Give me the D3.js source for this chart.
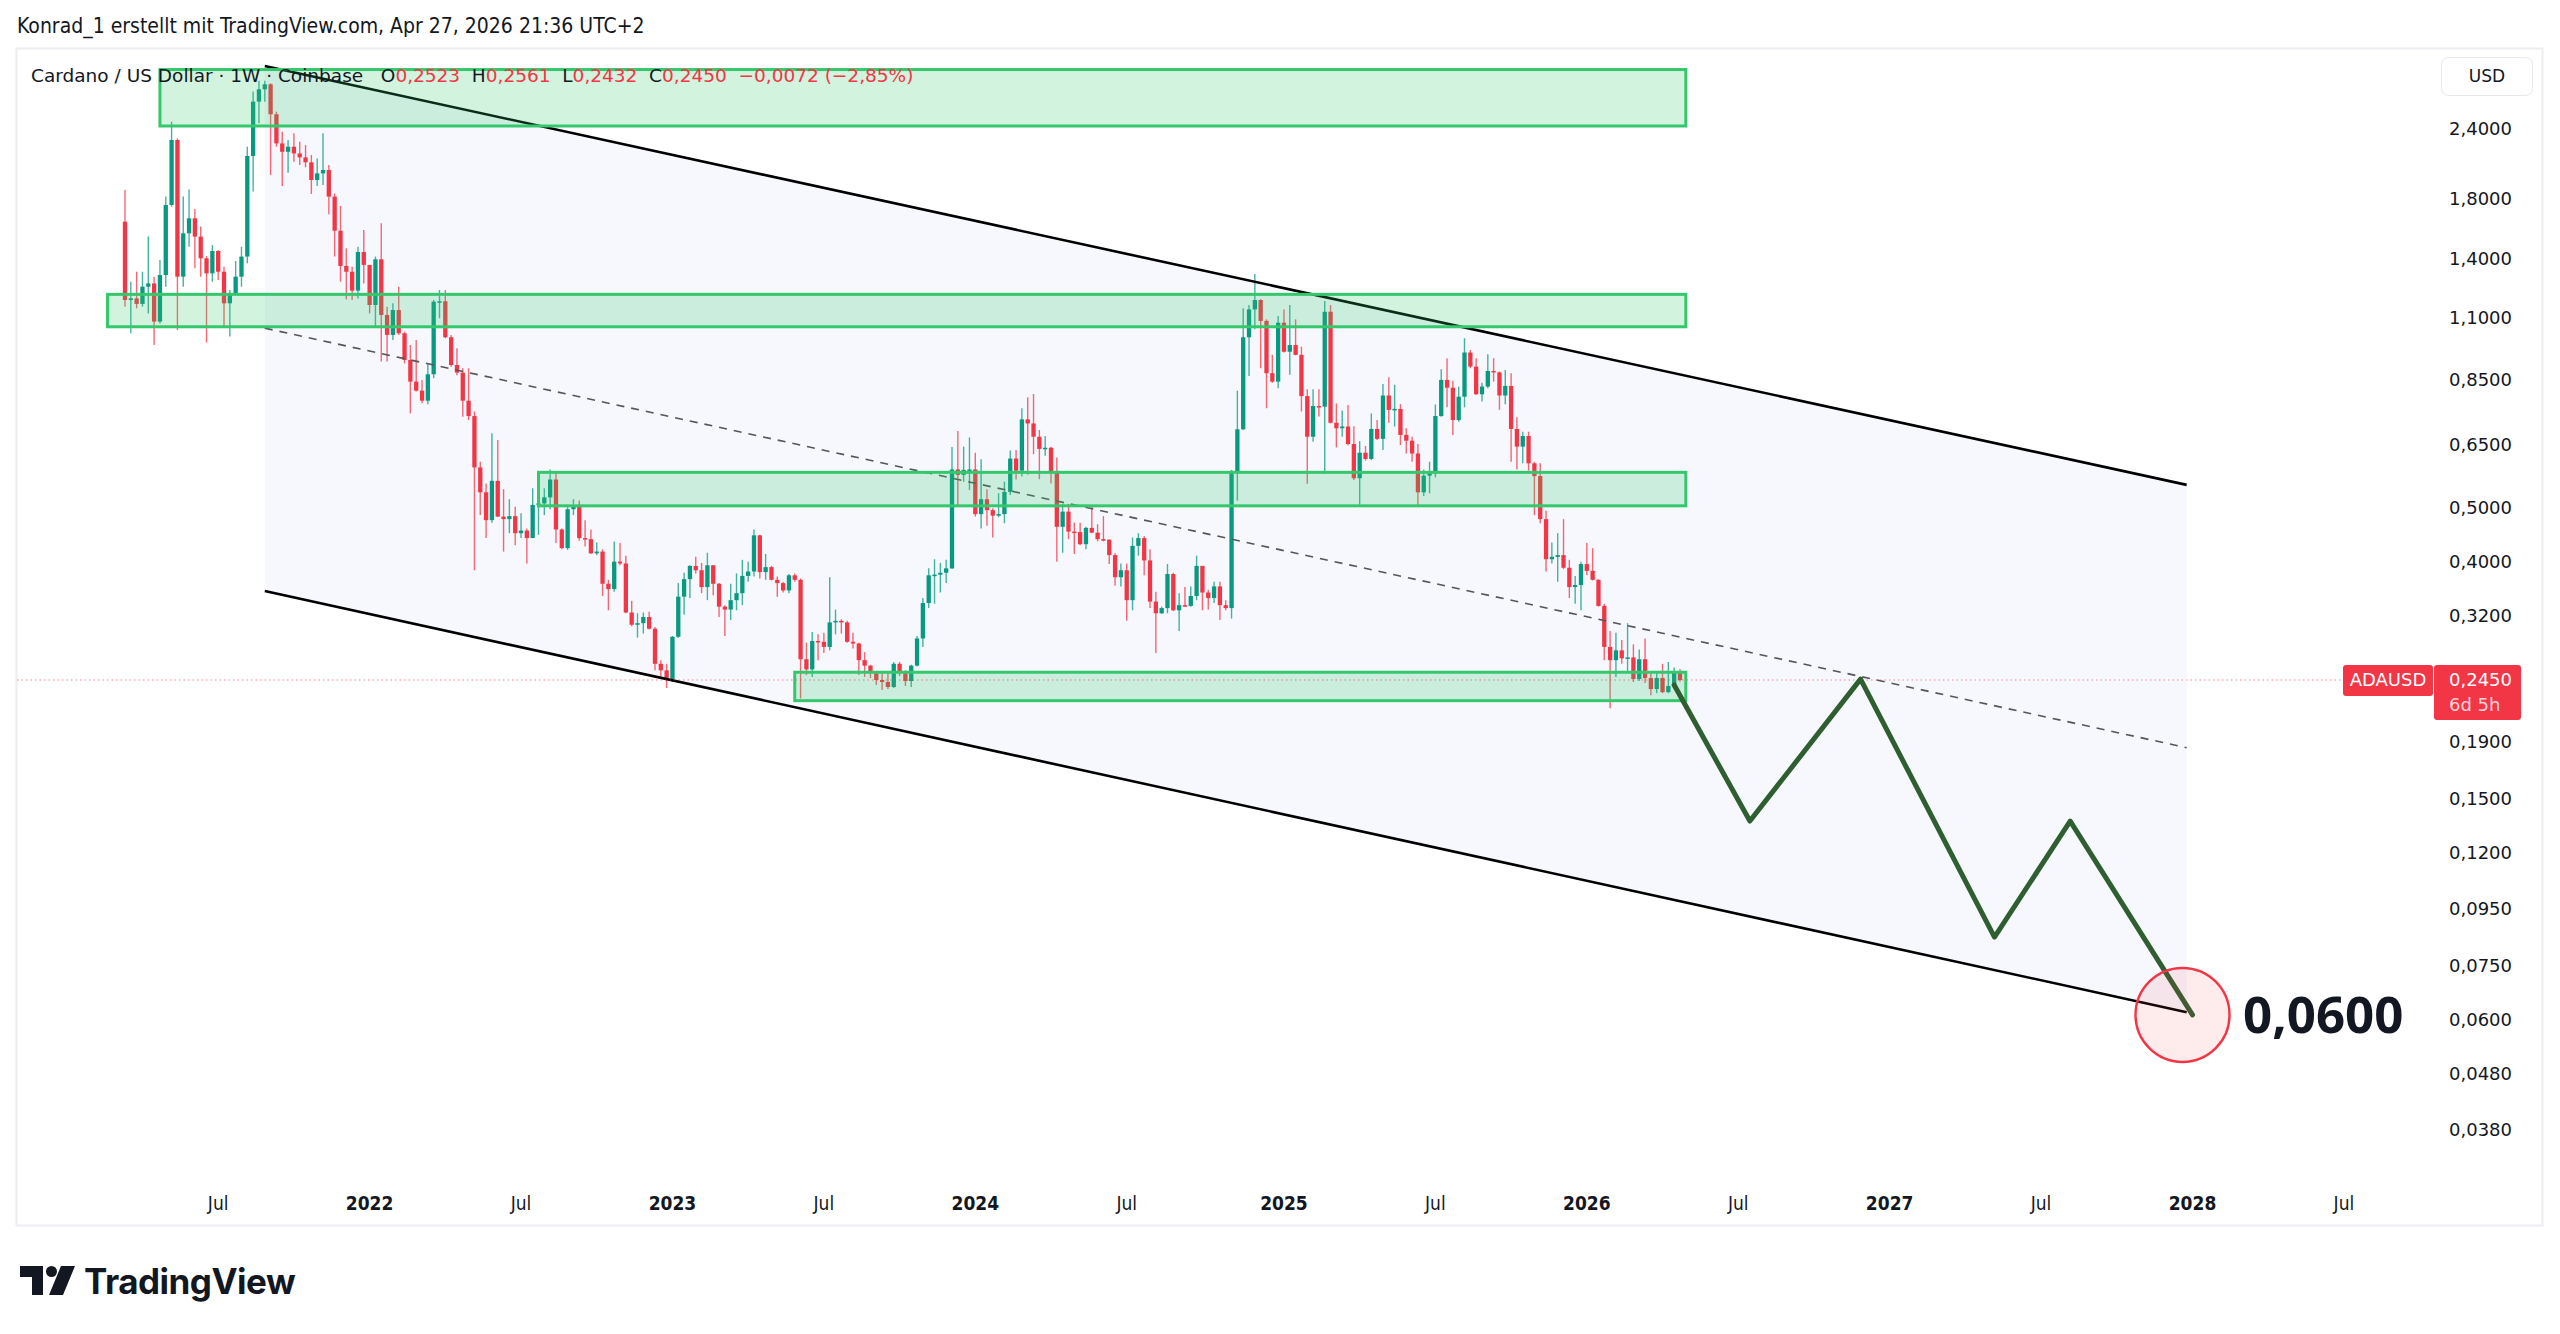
<!DOCTYPE html>
<html>
<head>
<meta charset="utf-8">
<script src="https://cdn.jsdelivr.net/npm/d3@7"></script>
<style>
  html, body { margin: 0; padding: 0; background: #fff; }
  svg { display: block; }
</style>
</head>
<body>
<script>
// weekly ADA/USD bars (Coinbase), first bar = week of 15 Mar 2021
const firstWeek = "2021-03-15";
const firstOpen = 1.635;
const closes = [
  1.182, 1.190, 1.163, 1.249, 1.266, 1.081, 1.311, 1.752, 2.293, 1.302,
  1.558, 1.658, 1.537, 1.405, 1.320, 1.448, 1.329, 1.166, 1.215, 1.302,
  1.415, 2.146, 2.688, 2.829, 2.888, 2.551, 2.261, 2.184, 2.230, 2.169,
  2.134, 2.091, 1.943, 1.997, 2.025, 1.814, 1.575, 1.361, 1.329, 1.229,
  1.442, 1.367, 1.158, 1.399, 1.111, 1.023, 1.134, 1.030, 0.922, 0.843,
  0.812, 0.779, 0.869, 1.174, 1.176, 1.013, 0.903, 0.875, 0.779, 0.731,
  0.591, 0.533, 0.475, 0.559, 0.482, 0.477, 0.483, 0.450, 0.455, 0.441,
  0.506, 0.509, 0.522, 0.562, 0.457, 0.423, 0.497, 0.504, 0.441, 0.439,
  0.414, 0.417, 0.365, 0.357, 0.400, 0.397, 0.324, 0.308, 0.310, 0.318,
  0.303, 0.262, 0.255, 0.246, 0.293, 0.346, 0.372, 0.393, 0.386, 0.360,
  0.394, 0.365, 0.332, 0.328, 0.341, 0.351, 0.377, 0.384, 0.446, 0.383,
  0.391, 0.371, 0.366, 0.355, 0.378, 0.371, 0.267, 0.256, 0.288, 0.287,
  0.281, 0.311, 0.313, 0.311, 0.287, 0.285, 0.266, 0.260, 0.252, 0.245,
  0.243, 0.238, 0.262, 0.252, 0.244, 0.260, 0.291, 0.337, 0.378, 0.379,
  0.382, 0.389, 0.586, 0.573, 0.585, 0.586, 0.487, 0.518, 0.495, 0.484,
  0.487, 0.534, 0.613, 0.583, 0.721, 0.709, 0.671, 0.638, 0.641, 0.581,
  0.462, 0.492, 0.453, 0.452, 0.430, 0.460, 0.451, 0.439, 0.438, 0.411,
  0.375, 0.386, 0.341, 0.427, 0.441, 0.402, 0.339, 0.323, 0.330, 0.380,
  0.327, 0.334, 0.333, 0.347, 0.393, 0.352, 0.344, 0.361, 0.334, 0.330,
  0.581, 0.692, 1.013, 1.137, 1.182, 1.084, 0.873, 0.843, 1.076, 0.954,
  0.981, 0.942, 0.794, 0.671, 0.762, 0.760, 1.126, 0.711, 0.695, 0.700,
  0.651, 0.565, 0.628, 0.612, 0.693, 0.665, 0.796, 0.750, 0.753, 0.676,
  0.660, 0.626, 0.533, 0.571, 0.578, 0.731, 0.849, 0.822, 0.719, 0.792,
  0.951, 0.897, 0.800, 0.826, 0.881, 0.876, 0.796, 0.828, 0.693, 0.644,
  0.673, 0.601, 0.570, 0.477, 0.404, 0.408, 0.411, 0.390, 0.360, 0.363,
  0.396, 0.385, 0.371, 0.333, 0.281, 0.266, 0.277, 0.268, 0.269, 0.246,
  0.267, 0.247, 0.236, 0.247, 0.233, 0.239, 0.2523, 0.2450
];
const highs = [
  1.864, 1.275, 1.329, 1.329, 1.537, 1.302, 1.395, 1.814, 2.474, 2.309,
  1.814, 1.869, 1.723, 1.602, 1.418, 1.484, 1.454, 1.357, 1.232, 1.390,
  1.474, 2.230, 2.802, 2.931, 2.930, 2.900, 2.579, 2.373, 2.293, 2.357,
  2.277, 2.246, 2.155, 2.125, 2.357, 2.068, 1.838, 1.745, 1.464, 1.357,
  1.474, 1.580, 1.357, 1.415, 1.624, 1.150, 1.166, 1.249, 1.037, 0.981,
  1.002, 0.849, 0.909, 1.182, 1.232, 1.232, 1.023, 0.968, 0.891, 0.891,
  0.745, 0.605, 0.553, 0.681, 0.662, 0.540, 0.518, 0.502, 0.489, 0.459,
  0.542, 0.540, 0.542, 0.586, 0.578, 0.459, 0.506, 0.518, 0.515, 0.475,
  0.457, 0.433, 0.421, 0.371, 0.435, 0.432, 0.410, 0.340, 0.323, 0.324,
  0.325, 0.305, 0.266, 0.262, 0.294, 0.366, 0.382, 0.394, 0.408, 0.398,
  0.415, 0.394, 0.366, 0.334, 0.365, 0.381, 0.403, 0.400, 0.457, 0.447,
  0.413, 0.393, 0.376, 0.368, 0.380, 0.381, 0.373, 0.286, 0.299, 0.296,
  0.298, 0.375, 0.328, 0.315, 0.313, 0.298, 0.286, 0.275, 0.261, 0.253,
  0.252, 0.252, 0.264, 0.264, 0.255, 0.261, 0.294, 0.344, 0.389, 0.404,
  0.398, 0.403, 0.643, 0.687, 0.644, 0.669, 0.628, 0.611, 0.540, 0.499,
  0.531, 0.557, 0.634, 0.635, 0.755, 0.790, 0.801, 0.690, 0.673, 0.644,
  0.616, 0.508, 0.508, 0.470, 0.470, 0.462, 0.504, 0.467, 0.483, 0.439,
  0.414, 0.397, 0.397, 0.442, 0.450, 0.445, 0.421, 0.353, 0.332, 0.396,
  0.382, 0.351, 0.360, 0.361, 0.410, 0.393, 0.356, 0.368, 0.368, 0.341,
  0.585, 0.812, 1.142, 1.158, 1.316, 1.186, 1.091, 0.942, 1.106, 1.137,
  1.158, 1.091, 0.974, 0.817, 0.817, 0.817, 1.177, 1.158, 0.770, 0.748,
  0.765, 0.701, 0.659, 0.646, 0.739, 0.719, 0.835, 0.858, 0.832, 0.768,
  0.695, 0.671, 0.651, 0.586, 0.605, 0.767, 0.887, 0.929, 0.846, 0.826,
  1.009, 0.961, 0.929, 0.839, 0.944, 0.929, 0.879, 0.885, 0.873, 0.727,
  0.685, 0.685, 0.605, 0.601, 0.494, 0.433, 0.450, 0.477, 0.403, 0.377,
  0.400, 0.432, 0.423, 0.372, 0.336, 0.300, 0.298, 0.289, 0.310, 0.284,
  0.278, 0.291, 0.253, 0.254, 0.262, 0.264, 0.258, 0.2561
];
const lows = [
  1.150, 1.030, 1.142, 1.150, 1.118, 0.981, 1.073, 1.249, 1.740, 1.044,
  1.249, 1.474, 1.348, 1.302, 0.991, 1.275, 1.284, 1.060, 1.016, 1.207,
  1.249, 1.376, 1.852, 2.457, 2.688, 1.983, 2.230, 1.895, 2.003, 2.096,
  2.068, 2.048, 1.834, 1.895, 1.903, 1.686, 1.415, 1.275, 1.185, 1.182,
  1.190, 1.266, 1.118, 1.061, 0.916, 0.916, 1.002, 1.023, 0.909, 0.739,
  0.809, 0.771, 0.768, 0.855, 1.096, 1.009, 0.897, 0.866, 0.729, 0.719,
  0.386, 0.485, 0.441, 0.470, 0.481, 0.417, 0.450, 0.428, 0.441, 0.397,
  0.441, 0.447, 0.485, 0.497, 0.432, 0.421, 0.420, 0.485, 0.436, 0.426,
  0.413, 0.411, 0.347, 0.327, 0.353, 0.394, 0.323, 0.306, 0.292, 0.297,
  0.302, 0.255, 0.246, 0.237, 0.243, 0.292, 0.321, 0.344, 0.381, 0.351,
  0.341, 0.348, 0.318, 0.294, 0.314, 0.327, 0.334, 0.368, 0.376, 0.373,
  0.371, 0.370, 0.346, 0.352, 0.351, 0.368, 0.227, 0.250, 0.248, 0.266,
  0.274, 0.277, 0.296, 0.297, 0.286, 0.279, 0.250, 0.248, 0.247, 0.240,
  0.235, 0.236, 0.237, 0.249, 0.239, 0.238, 0.259, 0.281, 0.330, 0.336,
  0.352, 0.366, 0.388, 0.502, 0.557, 0.538, 0.482, 0.459, 0.464, 0.442,
  0.481, 0.469, 0.527, 0.562, 0.569, 0.573, 0.624, 0.563, 0.620, 0.553,
  0.400, 0.415, 0.439, 0.413, 0.428, 0.421, 0.450, 0.435, 0.435, 0.396,
  0.362, 0.361, 0.313, 0.327, 0.410, 0.378, 0.330, 0.274, 0.322, 0.323,
  0.326, 0.300, 0.332, 0.332, 0.341, 0.327, 0.328, 0.337, 0.314, 0.327,
  0.316, 0.515, 0.690, 0.863, 1.047, 0.891, 0.755, 0.839, 0.820, 0.951,
  0.867, 0.940, 0.745, 0.552, 0.657, 0.730, 0.575, 0.709, 0.642, 0.671,
  0.648, 0.561, 0.506, 0.608, 0.609, 0.662, 0.635, 0.711, 0.700, 0.648,
  0.626, 0.605, 0.506, 0.525, 0.531, 0.567, 0.729, 0.758, 0.676, 0.714,
  0.758, 0.891, 0.798, 0.776, 0.820, 0.843, 0.750, 0.768, 0.605, 0.586,
  0.601, 0.583, 0.485, 0.469, 0.384, 0.397, 0.368, 0.388, 0.344, 0.336,
  0.327, 0.378, 0.370, 0.332, 0.266, 0.218, 0.248, 0.262, 0.252, 0.243,
  0.244, 0.242, 0.230, 0.232, 0.232, 0.232, 0.240, 0.2432
];

// legend numbers of the running week
const lastChange = -0.0072;
const lastChangePct = -2.85;

// price axis ticks and time axis ticks (first weekly bar of each period)
const priceTicks = [2.4, 1.8, 1.4, 1.1, 0.85, 0.65, 0.5, 0.4, 0.32, 0.19, 0.15, 0.12, 0.095, 0.075, 0.06, 0.048, 0.038];
const timeTickLabels = ["Jul", "2022", "Jul", "2023", "Jul", "2024", "Jul", "2025", "Jul", "2026", "Jul", "2027", "Jul", "2028", "Jul"];
const timeTickDates = ["2021-07-05", "2022-01-03", "2022-07-04", "2023-01-02", "2023-07-03", "2024-01-01", "2024-07-01", "2025-01-06",
  "2025-07-07", "2026-01-05", "2026-07-06", "2027-01-04", "2027-07-05", "2028-01-03", "2028-07-03"];

// drawings
const zoneStarts = ["2021-04-26", "2021-02-22", "2022-07-25", "2023-05-29"];
const zoneEnd = "2026-05-04";
const zoneTops = [3.07, 1.21, 0.579, 0.253];
const zoneBottoms = [2.43, 1.058, 0.504, 0.2249];

const channelDates = ["2021-08-30", "2027-12-27"];
const channelUpper = [3.115, 0.5497];
const channelMiddle = [1.052, 0.1851];
const channelLower = [0.3541, 0.0619];

const pathDates = ["2026-04-20", "2026-07-20", "2026-11-30", "2027-05-10", "2027-08-09", "2028-01-03"];
const pathValues = [0.240, 0.1366, 0.2459, 0.0845, 0.1366, 0.0612];

const targetDate = "2027-12-22";
const targetValue = 0.0612;
const targetLabel = 0.06;
const lastPrice = 0.2450;

const W = 2560, H = 1334;
const green = "#089981", red = "#f23645";
const parse = d3.utcParse("%Y-%m-%d");
const fmt = v => v.toFixed(4).replace(".", ",");

const svg = d3.select("body").append("svg")
  .attr("width", W).attr("height", H)
  .style("font-family", "'DejaVu Sans', sans-serif");

const x = d3.scaleUtc()
  .domain([parse("2021-03-15"), parse("2028-01-03")])
  .range([125, 2192.5]);

const y = d3.scaleLog()
  .domain([0.038, 2.4])
  .range([1130, 129]);

// bars
const start = parse(firstWeek);
const bars = closes.map((c, i) => ({
  date: d3.utcDay.offset(start, 7 * i),
  open: i === 0 ? firstOpen : closes[i - 1],
  high: highs[i],
  low: lows[i],
  close: c
}));

// panel frame
svg.append("rect")
  .attr("x", 16.5).attr("y", 48.5)
  .attr("width", 2526).attr("height", 1177)
  .attr("fill", "#fff")
  .attr("stroke", "#eceef2")
  .attr("stroke-width", 2);

const plot = svg.append("g");

// channel background
const cx0 = x(parse(channelDates[0])), cx1 = x(parse(channelDates[1]));
plot.append("path")
  .attr("d", `M${cx0},${y(channelUpper[0])}L${cx1},${y(channelUpper[1])}L${cx1},${y(channelLower[1])}L${cx0},${y(channelLower[0])}Z`)
  .attr("fill", "#f6f8fe");

// candles
const bw = 4.3;
const candle = plot.selectAll("g.candle")
  .data(bars)
  .enter()
  .append("g")
  .attr("class", "candle");

candle.append("line")
  .attr("x1", d => x(d.date)).attr("x2", d => x(d.date))
  .attr("y1", d => y(d.high)).attr("y2", d => y(d.low))
  .attr("stroke", d => d.close >= d.open ? green : red)
  .attr("stroke-opacity", 0.75)
  .attr("stroke-width", 1.4);

candle.append("rect")
  .attr("x", d => x(d.date) - bw / 2)
  .attr("y", d => y(Math.max(d.open, d.close)))
  .attr("width", bw)
  .attr("height", d => Math.max(1.5, Math.abs(y(d.open) - y(d.close))))
  .attr("fill", d => d.close >= d.open ? green : red);

// channel lines
plot.append("line")
  .attr("x1", cx0).attr("y1", y(channelMiddle[0]))
  .attr("x2", cx1).attr("y2", y(channelMiddle[1]))
  .attr("stroke", "#555").attr("stroke-width", 1.6)
  .attr("stroke-dasharray", "8,7");

[channelUpper, channelLower].forEach(c => {
  plot.append("line")
    .attr("x1", cx0).attr("y1", y(c[0]))
    .attr("x2", cx1).attr("y2", y(c[1]))
    .attr("stroke", "#000").attr("stroke-width", 2.6);
});

// support / resistance zones
zoneStarts.forEach((s, i) => {
  const x0 = x(parse(s)), x1 = x(parse(zoneEnd));
  plot.append("rect")
    .attr("x", x0).attr("y", y(zoneTops[i]))
    .attr("width", x1 - x0)
    .attr("height", y(zoneBottoms[i]) - y(zoneTops[i]))
    .attr("fill", "rgba(51,199,107,0.22)")
    .attr("stroke", "#35c76c")
    .attr("stroke-width", 3);
});

// last price line
plot.append("line")
  .attr("x1", 17).attr("x2", 2343)
  .attr("y1", y(lastPrice)).attr("y2", y(lastPrice))
  .attr("stroke", red).attr("stroke-opacity", 0.6)
  .attr("stroke-width", 1.2)
  .attr("stroke-dasharray", "1.5,3");

// projected path
const line = d3.line().x(d => x(d[0])).y(d => y(d[1]));
plot.append("path")
  .attr("d", line(pathDates.map((d, i) => [parse(d), pathValues[i]])))
  .attr("fill", "none")
  .attr("stroke", "#2f5f30")
  .attr("stroke-width", 5)
  .attr("stroke-linejoin", "round")
  .attr("stroke-linecap", "round");

// target marker
plot.append("circle")
  .attr("cx", x(parse(targetDate))).attr("cy", y(targetValue))
  .attr("r", 47)
  .attr("fill", "rgba(242,54,69,0.1)")
  .attr("stroke", red).attr("stroke-width", 2.4);

svg.append("text")
  .attr("x", 2243).attr("y", y(targetValue) + 18)
  .attr("font-family", "'Noto Sans', sans-serif")
  .attr("font-weight", 700)
  .attr("font-size", 51)
  .attr("fill", "#131722")
  .text(fmt(targetLabel));

// header line
svg.append("text")
  .attr("x", 17).attr("y", 33)
  .attr("font-family", "'DejaVu Sans Condensed', 'Liberation Sans Narrow', sans-serif")
  .attr("font-stretch", "condensed")
  .attr("font-size", 21)
  .attr("fill", "#131722")
  .text("Konrad_1 erstellt mit TradingView.com, Apr 27, 2026 21:36 UTC+2");

// legend
const last = bars[bars.length - 1];
const legend = svg.append("text")
  .attr("x", 31).attr("y", 82)
  .attr("font-size", 18.5)
  .attr("fill", "#131722")
  .attr("xml:space", "preserve");
legend.append("tspan").text("Cardano / US Dollar · 1W · Coinbase ");
[["O", last.open], ["H", last.high], ["L", last.low], ["C", last.close]].forEach(([k, v]) => {
  legend.append("tspan").text("  " + k);
  legend.append("tspan").attr("fill", red).text(fmt(v));
});
legend.append("tspan").attr("fill", red)
  .text("  " + fmt(lastChange).replace("-", "−") + " (" + lastChangePct.toFixed(2).replace(".", ",").replace("-", "−") + "%)");

// price axis
svg.append("g")
  .selectAll("text")
  .data(priceTicks)
  .enter()
  .append("text")
  .attr("x", 2449)
  .attr("y", d => y(d))
  .attr("dy", "0.35em")
  .attr("font-size", 18)
  .attr("fill", "#131722")
  .text(fmt);

// time axis
svg.append("g")
  .selectAll("text")
  .data(timeTickLabels)
  .enter()
  .append("text")
  .attr("x", (d, i) => x(parse(timeTickDates[i])))
  .attr("y", 1210)
  .attr("text-anchor", "middle")
  .attr("font-family", "'DejaVu Sans Condensed', 'Liberation Sans Narrow', sans-serif")
  .attr("font-stretch", "condensed")
  .attr("font-size", 19)
  .attr("font-weight", d => d === "Jul" ? 400 : 700)
  .attr("fill", "#131722")
  .text(d => d);

// USD button
svg.append("rect")
  .attr("x", 2441.5).attr("y", 57.5)
  .attr("width", 91).attr("height", 38).attr("rx", 7)
  .attr("fill", "#fff").attr("stroke", "#e6e8ee");
svg.append("text")
  .attr("x", 2487).attr("y", 76).attr("dy", "0.35em")
  .attr("text-anchor", "middle")
  .attr("font-size", 17).attr("fill", "#131722")
  .text("USD");

// last price labels
const ly = y(lastPrice);
svg.append("rect")
  .attr("x", 2343).attr("y", ly - 15)
  .attr("width", 90).attr("height", 31).attr("rx", 3)
  .attr("fill", red);
svg.append("text")
  .attr("x", 2388).attr("y", ly).attr("dy", "0.36em")
  .attr("text-anchor", "middle")
  .attr("font-size", 18).attr("fill", "#fff")
  .text("ADAUSD");
svg.append("rect")
  .attr("x", 2434).attr("y", ly - 15)
  .attr("width", 87).attr("height", 55).attr("rx", 3)
  .attr("fill", red);
svg.append("text")
  .attr("x", 2449).attr("y", ly).attr("dy", "0.36em")
  .attr("font-size", 18).attr("fill", "#fff")
  .text(fmt(lastPrice));
svg.append("text")
  .attr("x", 2449).attr("y", ly + 25).attr("dy", "0.36em")
  .attr("font-size", 18).attr("fill", "rgba(255,255,255,0.8)")
  .text("6d 5h");

// TradingView logo
const logo = svg.append("g").attr("fill", "#131722");
logo.append("path").attr("d", "M20,1266H43V1295H32V1277H20Z");
logo.append("circle").attr("cx", 51.5).attr("cy", 1271.5).attr("r", 5.5);
logo.append("path").attr("d", "M61,1266H75L63,1295H49Z");
logo.append("text")
  .attr("x", 84).attr("y", 1294)
  .attr("font-family", "Inter, 'Noto Sans', sans-serif")
  .attr("font-weight", 700)
  .attr("font-size", 35)
  .attr("letter-spacing", -0.5)
  .text("TradingView");
</script>
</body>
</html>
